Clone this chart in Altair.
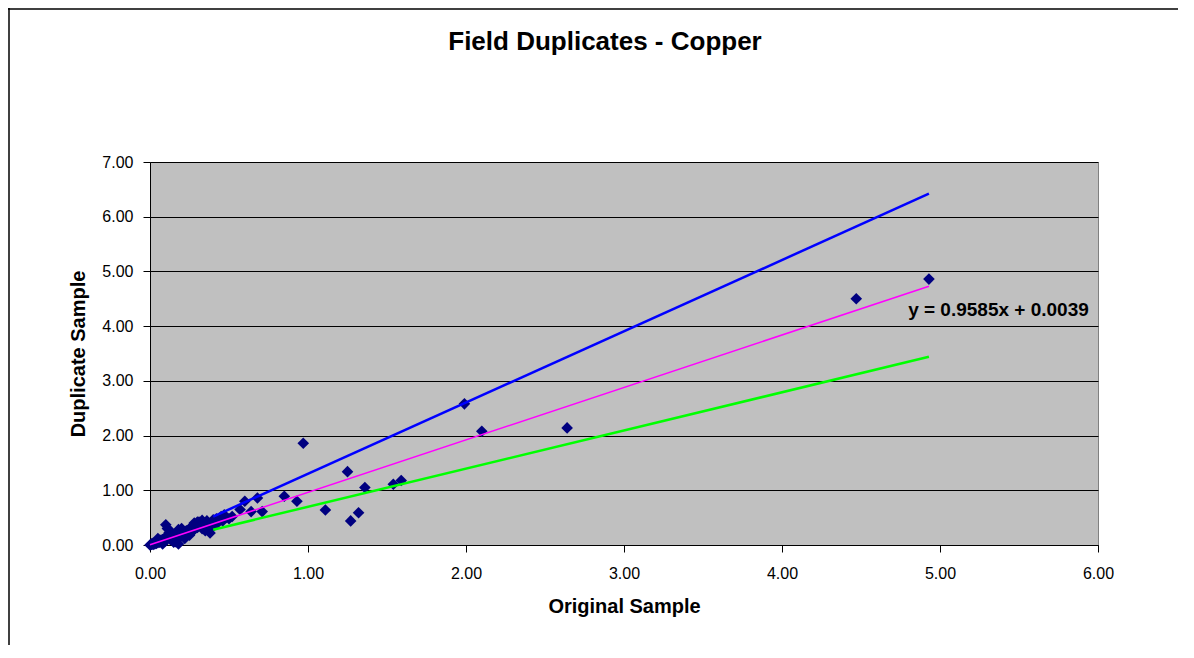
import altair as alt
import pandas as pd

# Scatter data (Original vs Duplicate)
orig = [0.00, 0.01, 0.01, 0.02, 0.02, 0.03, 0.03, 0.04, 0.04, 0.05, 0.05, 0.06, 0.06, 0.07, 0.07,
        0.08, 0.08, 0.09, 0.10, 0.10, 0.11, 0.12, 0.12, 0.13, 0.14, 0.15, 0.15, 0.16, 0.17, 0.18,
        0.18, 0.19, 0.20, 0.21, 0.22, 0.23, 0.24, 0.25, 0.26, 0.27, 0.28, 0.29, 0.30, 0.31, 0.32,
        0.33, 0.34, 0.35, 0.36, 0.37, 0.38, 0.39, 0.40, 0.42, 0.44, 0.46, 0.48, 0.50, 0.52,
        0.05, 0.08, 0.13, 0.16, 0.20, 0.22, 0.25, 0.28, 0.30, 0.33, 0.35, 0.40, 0.42, 0.45, 0.47,
        0.57, 0.60, 0.64, 0.68, 0.71, 0.85, 0.93, 0.97, 1.11, 1.25, 1.27, 1.32, 1.36, 1.54, 1.59,
        1.99, 2.10, 2.64, 4.47, 4.93]
dup = [0.00, 0.01, 0.02, 0.01, 0.03, 0.02, 0.04, 0.03, 0.05, 0.04, 0.07, 0.05, 0.08, 0.06, 0.09,
       0.07, 0.10, 0.12, 0.08, 0.37, 0.30, 0.22, 0.13, 0.10, 0.16, 0.19, 0.05, 0.12, 0.22, 0.28,
       0.02, 0.15, 0.17, 0.24, 0.20, 0.26, 0.22, 0.30, 0.24, 0.34, 0.28, 0.38, 0.32, 0.42, 0.35,
       0.45, 0.38, 0.40, 0.44, 0.36, 0.22, 0.42, 0.46, 0.48, 0.45, 0.44, 0.50, 0.48, 0.52,
       0.12, 0.02, 0.25, 0.06, 0.30, 0.12, 0.18, 0.40, 0.42, 0.30, 0.26, 0.34, 0.38, 0.52, 0.55,
       0.65, 0.80, 0.61, 0.86, 0.61, 0.89, 0.80, 1.86, 0.64, 1.34, 0.44, 0.59, 1.05, 1.11, 1.18,
       2.58, 2.08, 2.14, 4.50, 4.86]

# Reference lines (+30%, trend, -30%)
upper_x = [0.40, 4.93]
upper_y = [0.52, 6.42]
lower_x = [0.40, 4.93]
lower_y = [0.28, 3.44]
trend_x = [0.00, 4.93]
trend_y = [0.0039, 4.73]

equation = "y = 0.9585x + 0.0039"
eq_x = [5.37]
eq_y = [4.30]

title_text = "Field Duplicates - Copper"

x_ticks = [0, 1, 2, 3, 4, 5, 6]
y_ticks = [0, 1, 2, 3, 4, 5, 6, 7]

FONT = "Liberation Sans"

pts = pd.DataFrame({"x": orig, "y": dup})
lines = pd.DataFrame(
    [{"x": a, "y": b, "s": "upper"} for a, b in zip(upper_x, upper_y)]
    + [{"x": a, "y": b, "s": "lower"} for a, b in zip(lower_x, lower_y)]
    + [{"x": a, "y": b, "s": "trend"} for a, b in zip(trend_x, trend_y)]
)

xs = alt.Scale(domain=[0, 6], nice=False, zero=True)
ys = alt.Scale(domain=[0, 7], nice=False, zero=True)

xax = alt.Axis(values=x_ticks, format=".2f", grid=False, title="Original Sample",
               labelFont=FONT, labelFontSize=16, labelColor="black", labelPadding=13,
               labelFlush=False, labelOverlap=False,
               titleFont=FONT, titleFontSize=20, titleFontWeight="bold", titleColor="black",
               titlePadding=15, domainColor="black", tickColor="black", tickSize=7)
yax = alt.Axis(values=y_ticks, format=".2f", grid=True, gridColor="black", gridWidth=1,
               title="Duplicate Sample", labelFlush=False, labelOverlap=False,
               labelFont=FONT, labelFontSize=16, labelColor="black", labelPadding=10,
               titleFont=FONT, titleFontSize=20, titleFontWeight="bold", titleColor="black",
               titlePadding=13, domainColor="black", tickColor="black", tickSize=7)

base_pts = alt.Chart(pts).mark_point(shape="diamond", filled=True, size=135, color="#000080",
                                     opacity=1).encode(
    x=alt.X("x:Q", scale=xs, axis=xax),
    y=alt.Y("y:Q", scale=ys, axis=yax),
)

def line_layer(name, color, width):
    return alt.Chart(lines).transform_filter(alt.datum.s == name).mark_line(
        color=color, strokeWidth=width).encode(
        x=alt.X("x:Q", scale=xs), y=alt.Y("y:Q", scale=ys))

upper = line_layer("upper", "#0000FF", 2.5)
lower = line_layer("lower", "#00FF00", 2.5)
trend = line_layer("trend", "#FF00FF", 1.5)

eq = alt.Chart(pd.DataFrame({"x": eq_x, "y": eq_y, "t": [equation]})).mark_text(
    font=FONT, fontSize=19, fontWeight="bold", color="black", align="center", baseline="middle"
).encode(x=alt.X("x:Q", scale=xs), y=alt.Y("y:Q", scale=ys), text="t:N")

title = alt.Chart(pd.DataFrame({"t": [title_text]})).mark_text(
    font=FONT, fontSize=26, fontWeight="bold", color="black", align="center",
    baseline="alphabetic"
).encode(x=alt.value(455), y=alt.value(-112), text="t:N")

frame_top = alt.Chart(pd.DataFrame({"a": [0]})).mark_rule(color="black", strokeWidth=1.5).encode(
    x=alt.value(-142), x2=alt.value(1100), y=alt.value(-153))
frame_left = alt.Chart(pd.DataFrame({"a": [0]})).mark_rule(color="black", strokeWidth=1.5).encode(
    x=alt.value(-141), y=alt.value(-154), y2=alt.value(500))

chart = alt.layer(base_pts, upper, trend, lower, eq, title, frame_top, frame_left).properties(
    width=948, height=383,
    background="white",
    padding={"left": 142, "top": 154, "right": 80, "bottom": 100},
    autosize=alt.AutoSizeParams(type="none"),
).configure_view(fill="#C0C0C0", stroke="#808080", strokeWidth=1)

chart.save("out.html", embed_options={"renderer": "svg", "actions": False})
